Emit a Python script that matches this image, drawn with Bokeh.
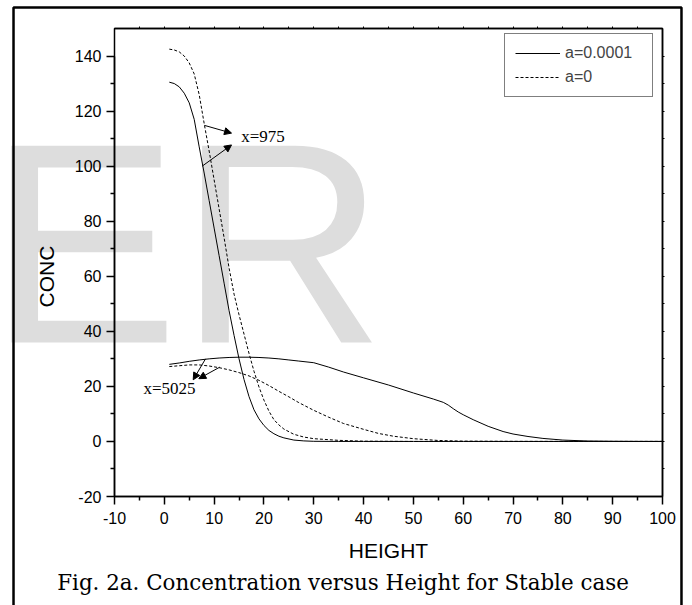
from bokeh.plotting import figure
from bokeh.models import (Range1d, LinearAxis, Legend, LegendItem, Label, Arrow,
                          NormalHead, BoxAnnotation, FixedTicker, CustomJSTickFormatter)
from bokeh.embed import file_html
from bokeh.resources import INLINE

# ---------------- data ----------------
x_ticks = [-10, 0, 10, 20, 30, 40, 50, 60, 70, 80, 90, 100]
x_minor = [-5, 5, 15, 25, 35, 45, 55, 65, 75, 85, 95]
y_ticks = [-20, 0, 20, 40, 60, 80, 100, 120, 140]
y_minor = [-10, 10, 30, 50, 70, 90, 110, 130]
top_ticks = [-5, 0, 5, 10, 15, 20, 25, 30, 35, 40, 45, 50, 55, 60, 65, 70, 75, 80, 85, 90, 95]
right_ticks = [-10, 0, 10, 20, 30, 40, 50, 60, 70, 80, 90, 100, 110, 120, 130, 140]

height_975 = [1, 2, 3, 4, 5, 6, 7, 8, 9, 10, 11, 12, 13, 14, 15, 16, 17, 18, 19, 20,
              21, 22, 23, 24, 26, 28, 30, 35, 40, 50, 60, 70, 80, 90, 100]
conc_975_a1 = [130.5, 130.0, 128.8, 126.5, 123.0, 117.0, 107.0, 97.5, 87.5, 77.5,
               67.5, 57.5, 47.5, 38.5, 30.0, 22.5, 16.3, 11.5, 8.2, 5.8,
               4.0, 2.8, 1.9, 1.3, 0.5, 0.2, 0.05, 0, 0, 0, 0, 0, 0, 0, 0]
conc_975_a0 = [142.5, 142.2, 141.5, 140.0, 137.5, 133.5, 126.0, 115.5, 105.5, 95.0,
               84.5, 74.0, 63.0, 53.5, 46.0, 39.0, 32.0, 25.5, 19.8, 15.0,
               11.0, 7.9, 6.0, 4.5, 2.6, 1.6, 1.0, 0.4, 0.1, 0, 0, 0, 0, 0, 0]

height_5025_a1 = [1, 3, 5, 7, 9, 11, 13, 15, 17, 19, 21, 23, 25, 27, 30, 33, 36, 40, 45,
                  50, 54, 56, 57, 58, 59, 60, 62, 65, 68, 70, 73, 76, 80, 85, 90, 95, 100]
conc_5025_a1 = [28.0, 28.5, 29.1, 29.6, 30.0, 30.3, 30.5, 30.6, 30.6, 30.5, 30.3, 30.0,
                29.6, 29.2, 28.6, 27.0, 25.2, 23.1, 20.5, 17.6, 15.4, 14.2, 13.2, 11.9,
                10.7, 9.7, 7.9, 5.5, 3.6, 2.7, 1.8, 1.1, 0.5, 0.15, 0.05, 0.01, 0]

height_5025_a0 = [1, 3, 5, 7, 9, 11, 13, 15, 17, 19, 21, 23, 25, 27, 30, 33, 36, 40, 43,
                  46, 50, 55, 60, 70, 80, 90, 100]
conc_5025_a0 = [27.2, 27.5, 27.8, 27.8, 27.4, 26.8, 26.0, 25.0, 23.8, 22.2, 20.3, 18.2,
                16.2, 14.1, 11.3, 8.8, 6.5, 4.4, 2.9, 1.9, 1.0, 0.35, 0.1, 0.02, 0, 0, 0]

legend_labels = ["a=0.0001", "a=0"]

# annotations (data coordinates)
label_975 = {"text": "x=975", "x": 15.43, "y": 110.8}
label_5025 = {"text": "x=5025", "x": -4.18, "y": 19.4}
arrows = [  # (x_start, y_start, x_end, y_end)
    (8.07, 114.8, 13.49, 112.0),
    (7.60, 100.0, 13.49, 107.7),
    (8.27, 30.0, 5.80, 22.4),
    (11.14, 27.0, 6.92, 22.8),
]
caption = "Fig. 2a. Concentration versus Height for Stable case"
watermark = "ER"

# ---------------- figure ----------------
# the frame covers the whole canvas; the axes are pinned at the data edges
X0, X1, Y0, Y1 = -10, 100, -20, 150
p = figure(width=692, height=605, output_backend="svg", toolbar_location=None,
           x_range=Range1d(-32.883, 106.022), y_range=Range1d(-59.594, 160.171),
           min_border=0, x_axis_label="HEIGHT", y_axis_label="CONC")
p.grid.visible = False
p.outline_line_color = None
p.background_fill_color = "white"
p.border_fill_color = "white"

FONT = "Liberation Sans"

# watermark
p.add_layout(Label(x=-35.41, y=71.9, text=watermark, text_font=FONT,
                   text_font_size="286px", text_color="#dddddd",
                   text_align="left", text_baseline="alphabetic", level="image"))

fmt = CustomJSTickFormatter(code="return String(tick)")
xa, ya = p.xaxis[0], p.yaxis[0]
xa.fixed_location = Y0
xa.bounds = (X0, X1)
ya.fixed_location = X0
ya.bounds = (Y0, 140)
for ax, ticks, minor in ((xa, x_ticks, x_minor), (ya, y_ticks, y_minor)):
    ax.ticker = FixedTicker(ticks=ticks, minor_ticks=minor)
    ax.formatter = fmt
    ax.axis_line_width = 1.5
    ax.major_tick_line_width = 1.5
    ax.minor_tick_line_width = 1.5
    ax.major_tick_in = 0
    ax.minor_tick_in = 0
    ax.major_tick_out = 8
    ax.minor_tick_out = 4
    ax.major_label_text_font = FONT
    ax.major_label_text_font_size = "16px"
    ax.major_label_text_color = "black"
    ax.axis_label_text_font = FONT
    ax.axis_label_text_font_size = "21px"
    ax.axis_label_text_font_style = "normal"
    ax.axis_label_text_color = "black"

xa.major_label_standoff = 7
xa.axis_label_standoff = 12
ya.major_label_standoff = 5
ya.axis_label_standoff = 14

# top & right axes: tiny outward ticks only, no labels
top = LinearAxis(fixed_location=Y1, bounds=(X0, X1),
                 ticker=FixedTicker(ticks=[], minor_ticks=top_ticks))
right = LinearAxis(fixed_location=X1, bounds=(Y0, Y1),
                   ticker=FixedTicker(ticks=[], minor_ticks=right_ticks))
for ax in (top, right):
    ax.major_tick_in = 0
    ax.major_tick_out = 0
    ax.minor_tick_in = 0
    ax.minor_tick_out = 2
    ax.axis_line_width = 1.5
    ax.minor_tick_line_width = 1
p.add_layout(top, "above")
p.add_layout(right, "right")

# inner plot frame
p.add_layout(BoxAnnotation(left=X0, right=X1, bottom=Y0, top=Y1, fill_alpha=0,
                           line_color="black", line_alpha=1, line_width=1.5))

# curves
r1 = p.line(height_975, conc_975_a1, line_color="black", line_width=1)
r2 = p.line(height_975, conc_975_a0, line_color="black", line_width=1, line_dash="3 2")
p.line(height_5025_a1, conc_5025_a1, line_color="black", line_width=1)
p.line(height_5025_a0, conc_5025_a0, line_color="black", line_width=1, line_dash="3 2")

legend = Legend(items=[LegendItem(label=legend_labels[0], renderers=[r1]),
                       LegendItem(label=legend_labels[1], renderers=[r2])],
                location=(504, 508))
legend.label_text_font = FONT
legend.label_text_font_size = "16px"
legend.glyph_width = 45
legend.glyph_height = 16
legend.label_height = 16
legend.label_width = 77
legend.label_standoff = 5
legend.spacing = 6
legend.padding = 10
legend.margin = 0
legend.border_line_color = "black"
legend.border_line_width = 1
legend.background_fill_color = "white"
legend.background_fill_alpha = 1
p.add_layout(legend, "center")

# annotations
for (xs, ys, xe, ye) in arrows:
    p.add_layout(Arrow(x_start=xs, y_start=ys, x_end=xe, y_end=ye, line_width=1,
                       end=NormalHead(size=7, fill_color="black", line_color="black")))
for lab in (label_975, label_5025):
    p.add_layout(Label(x=lab["x"], y=lab["y"], text=lab["text"], text_font="Liberation Serif",
                       text_font_size="17px", text_align="left", text_baseline="alphabetic",
                       text_color="black"))

p.add_layout(Label(x=35.87, y=-51.25, text=caption, text_font="DejaVu Serif",
                   text_font_size="21.4px", text_align="center", text_baseline="alphabetic",
                   text_color="black"))

# outer frame of the figure panel
p.add_layout(BoxAnnotation(left=-30.27, right=103.81, top=157.63, bottom=-70,
                           fill_alpha=0, line_color="black", line_alpha=1, line_width=2.5))

open("out.html", "w").write(file_html(p, INLINE))
